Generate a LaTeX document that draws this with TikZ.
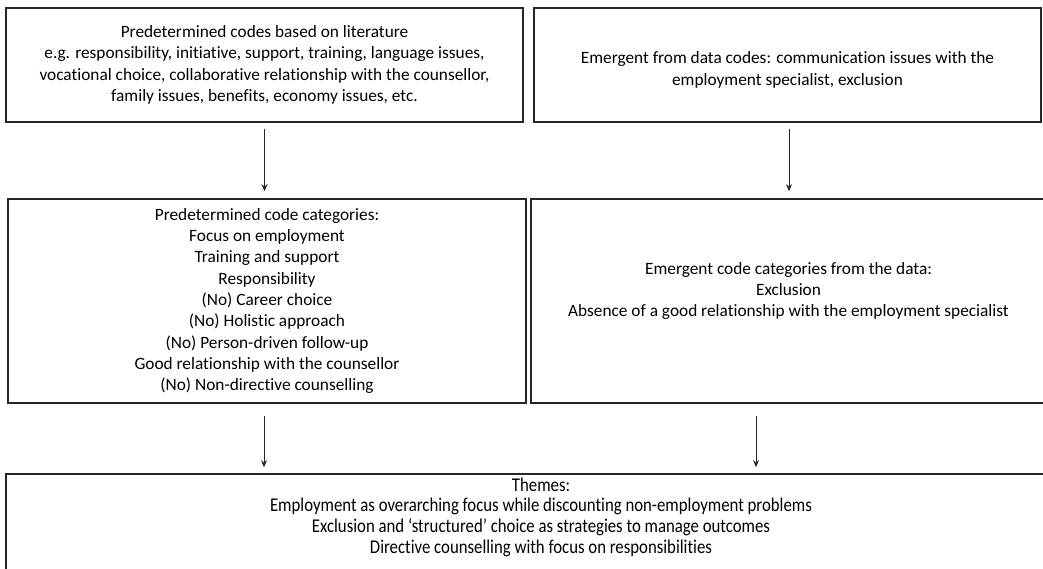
\documentclass[tikz,border=0pt]{standalone}
\usepackage{fontspec}
\setmainfont{Carlito}[Ligatures={TeX,NoCommon}]
\newfontfamily\condensedfont[FakeStretch=0.86,Ligatures={TeX,NoCommon}]{Carlito}
\usetikzlibrary{arrows.meta}
\begin{document}
\begin{tikzpicture}[x=1pt,y=-1pt,
  box/.style={draw=black!85, line width=1.6pt, rectangle, inner sep=0pt, align=center, font=\fontsize{17.3}{21.3}\selectfont},
  txt/.style={align=center, inner sep=0pt, font=\fontsize{17.3}{21.3}\selectfont},
  themetxt/.style={align=center, inner sep=0pt, font=\condensedfont\fontsize{19.5}{20.7}\selectfont},
  arr/.style={draw=black!85, line width=1pt, -{Stealth[length=7pt,width=6pt]}}]
\useasboundingbox (0,0) rectangle (1043,568);
\clip (0,0) rectangle (1043,568);
\node[box, minimum width=517pt, minimum height=114pt] (A) at (264.5,65)
  {Predetermined codes based on literature\\
   e.g. responsibility, initiative, support, training, language issues,\\
   vocational choice, collaborative relationship with the counsellor,\\
   family issues, benefits, economy issues, etc.};
\node[box, minimum width=507pt, minimum height=114pt] (B) at (787.5,65) {};
\node[txt] (Bt) at (787.5,70)
  {Emergent from data codes: communication issues with the\\
   employment specialist, exclusion};
\node[box, minimum width=518pt, minimum height=204pt] (C) at (267,301)
  {Predetermined code categories:\\
   Focus on employment\\
   Training and support\\
   Responsibility\\
   (No) Career choice\\
   (No) Holistic approach\\
   (No) Person-driven follow-up\\
   Good relationship with the counsellor\\
   (No) Non-directive counselling};
\node[box, minimum width=515pt, minimum height=204pt] (D) at (788.5,301) {};
\node[txt] (Dt) at (788.5,291)
  {Emergent code categories from the data:\\
   Exclusion\\
   Absence of a good relationship with the employment specialist};
\node[box, minimum width=1040pt, minimum height=106pt] (E) at (526,527) {};
\node[themetxt] (Et) at (541,517)
  {Themes:\\
   Employment as overarching focus while discounting non-employment problems\\
   Exclusion and ‘structured’ choice as strategies to manage outcomes\\
   Directive counselling with focus on responsibilities};
\draw[arr, shorten <=6pt, shorten >=7pt] (A.south) -- (A.south |- C.north);
\draw[arr, shorten <=6pt, shorten >=7pt] ([xshift=1.5pt]B.south) -- ([xshift=1.5pt]B.south |- D.north);
\draw[arr, shorten <=12pt, shorten >=6pt] ([xshift=-3pt]C.south) -- ([xshift=-3pt]C.south |- E.north);
\draw[arr, shorten <=12pt, shorten >=6pt] ([xshift=-32.5pt]D.south) -- ([xshift=-32.5pt]D.south |- E.north);
\end{tikzpicture}
\end{document}
